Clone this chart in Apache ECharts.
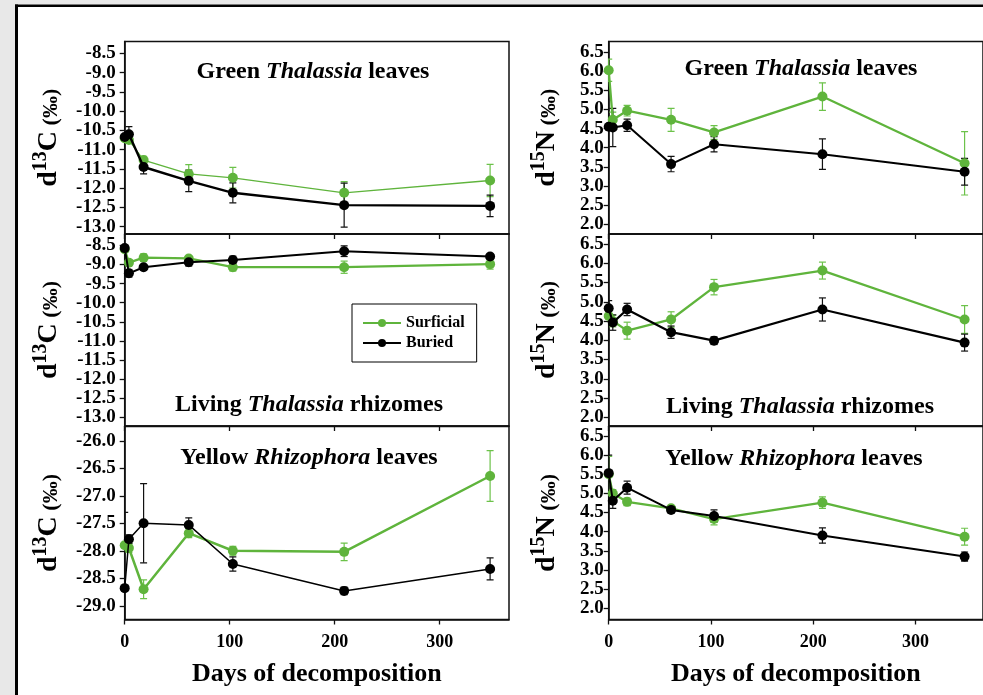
<!DOCTYPE html>
<html>
<head>
<meta charset="utf-8">
<script src="https://cdn.jsdelivr.net/npm/echarts@6/dist/echarts.min.js"></script>
<style>
html,body{margin:0;padding:0;background:#fff;}
#chart{width:983px;height:695px;}
</style>
</head>
<body>
<div id="chart"></div>
<script>
// ---------- DATA ----------
const days = [0, 4, 18, 61, 103, 209, 348];
const xTicks = [0, 100, 200, 300];
const ticksC = [-13.0, -12.5, -12.0, -11.5, -11.0, -10.5, -10.0, -9.5, -9.0, -8.5];
const ticksCR = [-29.0, -28.5, -28.0, -27.5, -27.0, -26.5, -26.0];
const ticksN = [2.0, 2.5, 3.0, 3.5, 4.0, 4.5, 5.0, 5.5, 6.0, 6.5];

// Green Thalassia leaves, d13C
const gtC_surf    = [-10.70, -10.75, -11.27, -11.63, -11.73, -12.12, -11.80];
const gtC_surfErr = [0.08, 0.08, 0.10, 0.24, 0.27, 0.29, 0.42];
const gtC_bur     = [-10.67, -10.60, -11.45, -11.81, -12.12, -12.44, -12.46];
const gtC_burErr  = [0.08, 0.20, 0.18, 0.28, 0.26, 0.57, 0.28];
// Living Thalassia rhizomes, d13C
const lrC_surf    = [-8.60, -8.95, -8.82, -8.84, -9.07, -9.07, -8.99];
const lrC_surfErr = [0.08, 0.08, 0.10, 0.05, 0.10, 0.16, 0.13];
const lrC_bur     = [-8.57, -9.23, -9.07, -8.94, -8.88, -8.65, -8.79];
const lrC_burErr  = [0.08, 0.10, 0.06, 0.10, 0.10, 0.14, 0.06];
// Yellow Rhizophora leaves, d13C
const yrC_surf    = [-27.90, -27.95, -28.70, -27.68, -28.00, -28.02, -26.64];
const yrC_surfErr = [0.10, 0.08, 0.17, 0.08, 0.08, 0.16, 0.46];
const yrC_bur     = [-28.68, -27.79, -27.50, -27.53, -28.24, -28.73, -28.33];
const yrC_burErr  = [1.38, 0.08, 0.72, 0.13, 0.13, 0.07, 0.20];
// Green Thalassia leaves, d15N
const gtN_surf    = [6.03, 4.73, 4.97, 4.73, 4.40, 5.34, 3.59];
const gtN_surfErr = [0.29, 0.20, 0.14, 0.30, 0.18, 0.36, 0.83];
const gtN_bur     = [4.55, 4.53, 4.59, 3.57, 4.09, 3.83, 3.37];
const gtN_burErr  = [0.10, 0.50, 0.16, 0.20, 0.20, 0.40, 0.35];
// Living Thalassia rhizomes, d15N
const lrN_surf    = [4.63, 4.50, 4.25, 4.54, 5.38, 5.81, 4.54];
const lrN_surfErr = [0.15, 0.15, 0.22, 0.20, 0.20, 0.22, 0.36];
const lrN_bur     = [4.83, 4.46, 4.80, 4.21, 3.99, 4.80, 3.94];
const lrN_burErr  = [0.20, 0.20, 0.16, 0.16, 0.10, 0.30, 0.22];
// Yellow Rhizophora leaves, d15N
const yrN_surf    = [5.50, 5.00, 4.78, 4.61, 4.33, 4.76, 3.87];
const yrN_surfErr = [0.47, 0.10, 0.10, 0.07, 0.15, 0.15, 0.22];
const yrN_bur     = [5.53, 4.81, 5.15, 4.57, 4.41, 3.90, 3.35];
const yrN_burErr  = [0.47, 0.20, 0.17, 0.08, 0.16, 0.20, 0.12];

const seriesNames = ['Surficial', 'Buried'];
const panelTitles = [
  ['Green ', 'Thalassia', ' leaves'],
  ['Living ', 'Thalassia', ' rhizomes'],
  ['Yellow ', 'Rhizophora', ' leaves'],
  ['Green ', 'Thalassia', ' leaves'],
  ['Living ', 'Thalassia', ' rhizomes'],
  ['Yellow ', 'Rhizophora', ' leaves']
];
const xTitle = 'Days of decomposition';

// ---------- LAYOUT ----------
const FONT = '"Liberation Serif", "Times New Roman", serif';
const GREEN = '#5fb43c';
const GREEN_ERR = '#6cc24a';
const BLACK = '#000000';

const panels = [
  {surf: gtC_surf, surfErr: gtC_surfErr, bur: gtC_bur, burErr: gtC_burErr, ticks: ticksC, min: -13.19, max: -8.19, col: 0, row: 0, el: 'C', gw: 1.3, bw: 2.4},
  {surf: lrC_surf, surfErr: lrC_surfErr, bur: lrC_bur, burErr: lrC_burErr, ticks: ticksC, min: -13.23, max: -8.20, col: 0, row: 1, el: 'C', gw: 2.3, bw: 2.0},
  {surf: yrC_surf, surfErr: yrC_surfErr, bur: yrC_bur, burErr: yrC_burErr, ticks: ticksCR, min: -29.25, max: -25.74, col: 0, row: 2, el: 'C', gw: 2.5, bw: 1.5},
  {surf: gtN_surf, surfErr: gtN_surfErr, bur: gtN_bur, burErr: gtN_burErr, ticks: ticksN, min: 1.738, max: 6.783, col: 1, row: 0, el: 'N', gw: 2.3, bw: 2.0},
  {surf: lrN_surf, surfErr: lrN_surfErr, bur: lrN_bur, burErr: lrN_burErr, ticks: ticksN, min: 1.774, max: 6.76, col: 1, row: 1, el: 'N', gw: 2.3, bw: 2.2},
  {surf: yrN_surf, surfErr: yrN_surfErr, bur: yrN_bur, burErr: yrN_burErr, ticks: ticksN, min: 1.707, max: 6.748, col: 1, row: 2, el: 'N', gw: 2.3, bw: 2.0}
];
const colLeft = [124.7, 608.7];
const colWidth = [384.3, 384];
const rowTop = [41.5, 234, 426.5];
const rowH = [192.5, 192, 193];
const titlePos = [[313, 72], [309, 405], [309, 458], [801, 69], [800, 407], [794, 459]];

const grids = [], xAxes = [], yAxes = [], series = [], graphics = [];

function errRender(color) {
  return function (params, api) {
    const x = api.value(0), y = api.value(1), e = api.value(2);
    const top = api.coord([x, y + e]);
    const bot = api.coord([x, y - e]);
    const hw = 3.5;
    const st = {stroke: color, lineWidth: 1.2};
    return {
      type: 'group',
      children: [
        {type: 'line', shape: {x1: top[0], y1: top[1], x2: bot[0], y2: bot[1]}, style: st},
        {type: 'line', shape: {x1: top[0] - hw, y1: top[1], x2: top[0] + hw, y2: top[1]}, style: st},
        {type: 'line', shape: {x1: bot[0] - hw, y1: bot[1], x2: bot[0] + hw, y2: bot[1]}, style: st}
      ]
    };
  };
}

panels.forEach((p, i) => {
  const isBottom = p.row === 2;
  grids.push({
    left: colLeft[p.col], top: rowTop[p.row], width: colWidth[p.col], height: rowH[p.row],
    show: true, borderColor: '#111', borderWidth: 1.5, backgroundColor: 'transparent'
  });
  xAxes.push({
    type: 'value', gridIndex: i, min: 0, max: 366,
    axisLine: {show: true, onZero: false, lineStyle: {color: '#111', width: 1.5}},
    axisTick: {show: true, inside: false, length: 5, customValues: xTicks, lineStyle: {color: '#111', width: 1.3}},
    axisLabel: {show: isBottom, customValues: xTicks, margin: 14, fontFamily: FONT, fontWeight: 'bold', fontSize: 18, color: '#000'},
    splitLine: {show: false},
    name: isBottom ? xTitle : '',
    nameLocation: 'middle', nameGap: 42,
    nameTextStyle: {fontFamily: FONT, fontWeight: 'bold', fontSize: 26, color: '#000'}
  });
  yAxes.push({
    type: 'value', gridIndex: i, min: p.min, max: p.max,
    axisLine: {show: true, onZero: false, lineStyle: {color: '#111', width: 1.5}},
    axisTick: {show: true, inside: false, length: 5, customValues: p.ticks, lineStyle: {color: '#111', width: 1.3}},
    axisLabel: {show: true, customValues: p.ticks, margin: p.col === 0 ? 9 : 5,
      formatter: v => Number(v).toFixed(1),
      fontFamily: FONT, fontWeight: 'bold', fontSize: 19, color: '#000'},
    splitLine: {show: false},
    name: p.el === 'C' ? '{d|d}{s|13}{d|C}{p| (‰)}' : '{d|d}{s|15}{d|N}{p| (‰)}',
    nameLocation: 'middle', nameRotate: 90,
    nameGap: p.col === 0 ? 62 : 48,
    nameTextStyle: {
      color: '#000',
      rich: {
        d: {fontFamily: FONT, fontWeight: 'bold', fontSize: 28, lineHeight: 32, verticalAlign: 'bottom', color: '#000'},
        s: {fontFamily: FONT, fontWeight: 'bold', fontSize: 20, lineHeight: 32, verticalAlign: 'top', color: '#000'},
        p: {fontFamily: FONT, fontWeight: 'bold', fontSize: 22, lineHeight: 32, verticalAlign: 'bottom', color: '#000'}
      }
    }
  });
  // error bars
  series.push({
    type: 'custom', xAxisIndex: i, yAxisIndex: i, clip: true, z: 1, silent: true,
    renderItem: errRender(GREEN_ERR),
    data: days.map((d, k) => [d, p.surf[k], p.surfErr[k]])
  });
  series.push({
    type: 'custom', xAxisIndex: i, yAxisIndex: i, clip: true, z: 1, silent: true,
    renderItem: errRender('#111'),
    data: days.map((d, k) => [d, p.bur[k], p.burErr[k]])
  });
  series.push({
    name: seriesNames[0], type: 'line', xAxisIndex: i, yAxisIndex: i, clip: false, z: 2,
    symbol: 'circle', symbolSize: 10, animation: false,
    lineStyle: {color: GREEN, width: p.gw}, itemStyle: {color: GREEN},
    data: days.map((d, k) => [d, p.surf[k]])
  });
  series.push({
    name: seriesNames[1], type: 'line', xAxisIndex: i, yAxisIndex: i, clip: false, z: 3,
    symbol: 'circle', symbolSize: 10, animation: false,
    lineStyle: {color: BLACK, width: p.bw}, itemStyle: {color: BLACK},
    data: days.map((d, k) => [d, p.bur[k]])
  });
  const t = panelTitles[i];
  graphics.push({
    type: 'text', x: titlePos[i][0], y: titlePos[i][1], z: 10,
    style: {
      text: '{a|' + t[0] + '}{b|' + t[1] + '}{a|' + t[2] + '}',
      align: 'center', verticalAlign: 'middle',
      rich: {
        a: {fontFamily: FONT, fontWeight: 'bold', fontSize: 24, fill: '#000'},
        b: {fontFamily: FONT, fontWeight: 'bold', fontStyle: 'italic', fontSize: 24, fill: '#000'}
      }
    }
  });
});

// decorative outer frame
graphics.push({type: 'rect', shape: {x: 0, y: 0, width: 15, height: 695}, style: {fill: '#e8e8e8'}, z: 0});
graphics.push({type: 'rect', shape: {x: 0, y: 0, width: 983, height: 4.5}, style: {fill: '#e8e8e8'}, z: 0});
graphics.push({type: 'rect', shape: {x: 15, y: 4.5, width: 3, height: 691}, style: {fill: '#000'}, z: 0});
graphics.push({type: 'rect', shape: {x: 15, y: 4.5, width: 968, height: 2.5}, style: {fill: '#000'}, z: 0});

const chart = echarts.init(document.getElementById('chart'), null, {renderer: 'canvas'});
chart.setOption({
  animation: false,
  backgroundColor: '#fff',
  grid: grids,
  xAxis: xAxes,
  yAxis: yAxes,
  legend: {
    data: seriesNames, orient: 'vertical', left: 352, top: 304,
    itemWidth: 38, itemHeight: 10, itemGap: 4,
    padding: [11, 12, 11, 10],
    backgroundColor: '#fff', borderColor: '#000', borderWidth: 1,
    textStyle: {fontFamily: FONT, fontWeight: 'bold', fontSize: 16, color: '#000'},
    selectedMode: false
  },
  graphic: graphics,
  series: series
});
</script>
</body>
</html>
